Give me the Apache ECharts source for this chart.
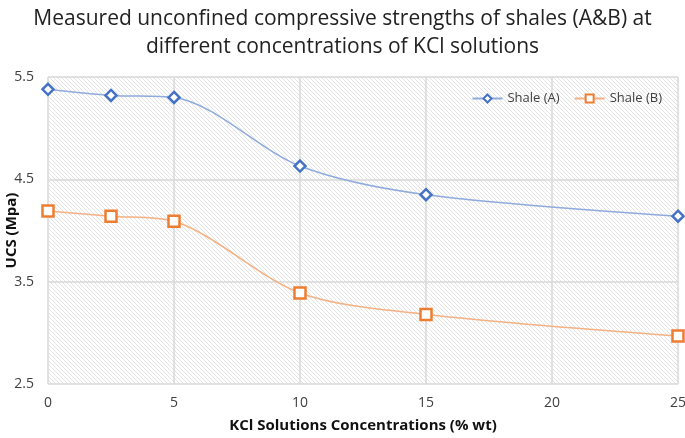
<!DOCTYPE html>
<html>
<head>
<meta charset="utf-8">
<script src="https://cdn.jsdelivr.net/npm/echarts@6/dist/echarts.min.js"></script>
<style>
  html, body { margin: 0; padding: 0; background: #fff; }
  #chart { width: 685px; height: 438px; }
</style>
</head>
<body>
<div id="chart"></div>
<script>
const concentrations = [0, 2.5, 5, 10, 15, 25]
const shaleA = [5.38, 5.32, 5.30, 4.63, 4.35, 4.14]
const shaleB = [4.19, 4.14, 4.09, 3.39, 3.18, 2.97]
const xTicks = [0, 5, 10, 15, 20, 25]
const yTicks = [2.5, 3.5, 4.5, 5.5]

// diagonal hatch for the plot area
function hatch() {
  const c = document.createElement('canvas')
  c.width = 4
  c.height = 4
  const ctx = c.getContext('2d')
  ctx.fillStyle = '#ffffff'
  ctx.fillRect(0, 0, 4, 4)
  ctx.strokeStyle = '#e3e3e3'
  ctx.lineWidth = 1
  ctx.beginPath()
  ctx.moveTo(-1, -1)
  ctx.lineTo(5, 5)
  ctx.moveTo(-1, 3)
  ctx.lineTo(1, 5)
  ctx.moveTo(3, -1)
  ctx.lineTo(5, 1)
  ctx.stroke()
  return c
}

const font = '"Open Sans", Lato, sans-serif'

const option = {
  animation: false,
  title: {
    text: 'Measured unconfined compressive strengths of shales (A&B) at\ndifferent concentrations of KCl solutions',
    left: 'center',
    top: 0,
    textStyle: { fontSize: 21, fontWeight: 'normal', color: '#222', fontFamily: font, lineHeight: 28 }
  },
  legend: {
    top: 87,
    right: 18,
    itemGap: 14,
    itemWidth: 30,
    itemHeight: 10,
    textStyle: { fontSize: 13, color: '#404040', fontFamily: font },
    data: ['Shale (A)', 'Shale (B)']
  },
  grid: {
    left: 48,
    right: 7,
    top: 77,
    bottom: 54,
    outerBoundsMode: 'none',
    show: true,
    borderWidth: 0,
    backgroundColor: { image: hatch(), repeat: 'repeat' }
  },
  xAxis: {
    type: 'value',
    min: 0,
    max: 25,
    interval: 5,
    name: 'KCl Solutions Concentrations (% wt)',
    nameLocation: 'middle',
    nameGap: 34,
    nameMoveOverlap: false,
    nameTextStyle: { fontSize: 15, fontWeight: 'bold', color: '#111', fontFamily: font },
    axisLine: { show: false },
    axisTick: { show: false },
    axisLabel: {
      fontSize: 14, color: '#404040', fontFamily: font, margin: 12,
      formatter: v => xTicks.includes(v) ? String(v) : ''
    },
    splitLine: { lineStyle: { color: '#d9d9d9', width: 1.5 } }
  },
  yAxis: {
    type: 'value',
    min: 2.5,
    max: 5.5,
    interval: 1,
    name: 'UCS (Mpa)',
    nameLocation: 'middle',
    nameGap: 29,
    nameMoveOverlap: false,
    nameTextStyle: { fontSize: 15, fontWeight: 'bold', color: '#111', fontFamily: font },
    axisLine: { show: false },
    axisTick: { show: false },
    axisLabel: {
      fontSize: 14, color: '#404040', fontFamily: font, margin: 14,
      formatter: v => yTicks.includes(v) ? v.toFixed(1) : ''
    },
    splitLine: { lineStyle: { color: '#d9d9d9', width: 1.5 } }
  },
  series: [
    {
      name: 'Shale (A)',
      type: 'line',
      smooth: 0.3,
      data: concentrations.map((x, i) => [x, shaleA[i]]),
      symbol: 'diamond',
      symbolSize: 11,
      lineStyle: { color: '#8faadc', width: 1.5 },
      itemStyle: { color: '#ffffff', borderColor: '#4472c4', borderWidth: 2.5 }
    },
    {
      name: 'Shale (B)',
      type: 'line',
      smooth: 0.3,
      data: concentrations.map((x, i) => [x, shaleB[i]]),
      symbol: 'rect',
      symbolSize: 11,
      lineStyle: { color: '#f4b183', width: 1.5 },
      itemStyle: { color: '#ffffff', borderColor: '#ed7d31', borderWidth: 2.5 }
    }
  ]
}

const myChart = echarts.init(document.getElementById('chart'))
myChart.setOption(option)
</script>
</body>
</html>
